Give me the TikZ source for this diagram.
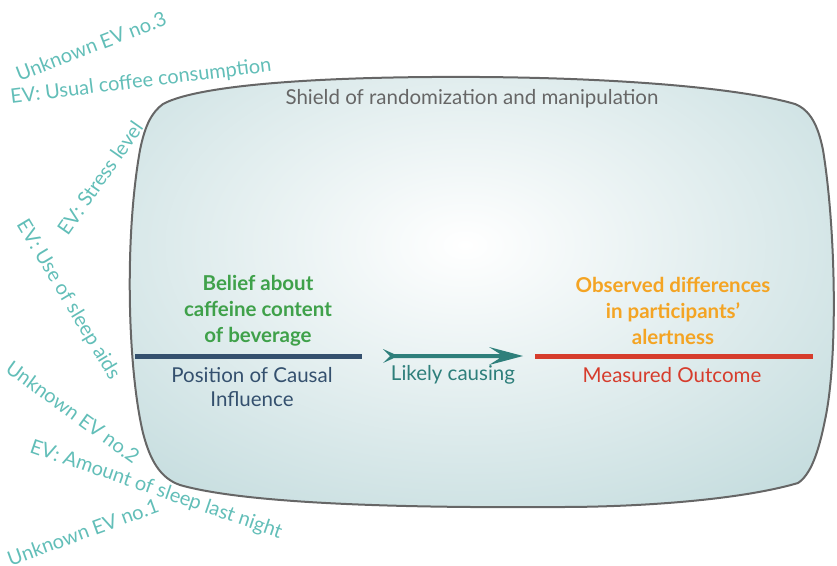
\documentclass[tikz,border=0pt]{standalone}
\usepackage{fontspec}
\setmainfont{Lato}
\definecolor{evc}{HTML}{62BEB8}
\definecolor{shieldc}{HTML}{BAD6D8}
\definecolor{edgec}{HTML}{666666}
\definecolor{greenc}{HTML}{3FA14A}
\definecolor{orangec}{HTML}{F4A423}
\definecolor{redc}{HTML}{D63C2C}
\definecolor{bluec}{HTML}{34506E}
\definecolor{arrowc}{HTML}{2E7F7B}
\tikzset{
  ev/.style={text=evc, font=\fontsize{20}{22}\selectfont, inner sep=0pt},
  head/.style={font=\fontsize{20.5}{26}\selectfont\bfseries, align=center, inner sep=0pt},
  sub/.style={font=\fontsize{20.5}{24}\selectfont, align=center, inner sep=0pt},
  bar/.style={line width=5pt}
}
\begin{document}
\begin{tikzpicture}[x=1pt,y=-1pt]
\useasboundingbox (0,0) rectangle (837,565);
% shield
\def\shieldpath{(163,104) .. controls (200,84) and (330,76) .. (480,77)
 .. controls (620,78) and (740,88) .. (795,104)
 .. controls (810,110) and (818,125) .. (823,150)
 .. controls (836,230) and (838,360) .. (825,420)
 .. controls (818,455) and (810,475) .. (798,483)
 .. controls (740,500) and (640,507) .. (560,507)
 .. controls (420,508) and (250,505) .. (180,485)
 .. controls (160,478) and (150,460) .. (143,433)
 .. controls (128,370) and (124,240) .. (140,150)
 .. controls (145,125) and (152,112) .. cycle}
\begin{scope}
  \clip \shieldpath;
  \shade[inner color=white, outer color=shieldc] (465,245) ellipse (600 and 380);
\end{scope}
\draw[edgec, line width=2pt] \shieldpath;
\node[text=edgec, font=\fontsize{20.5}{22}\selectfont, inner sep=0pt] (shield) at (472,99) {Shield of randomization and manipulation};
% left
\node[head, text=greenc] (belief) at (258,311) {Belief about\\caffeine content\\of beverage};
\coordinate (b1) at (135,356); \coordinate (b2) at (362,356);
\draw[bar, bluec] (b1) -- (b2);
\node[sub, text=bluec] (pos) at (252,387) {Position of Causal\\Influence};
% arrow
\coordinate (a1) at (383,356); \coordinate (a2) at (523,356);
\fill[arrowc] (a1) ++(0,-7) -- ++(11,5) -- (500,354) -- (489,347) -- (a2) -- (489,365) -- (500,358) -- (394,358) -- (383,363) -- (390,356) -- cycle;
\node[sub, text=arrowc] (likely) at (453,375) {Likely causing};
% right
\node[head, text=orangec] (obs) at (673,311) {Observed differences\\in participants'\\alertness};
\coordinate (r1) at (535,356); \coordinate (r2) at (813,356);
\draw[bar, redc] (r1) -- (r2);
\node[sub, text=redc] (meas) at (672,375) {Measured Outcome};
% EV labels
\node[ev, rotate=21] (u3) at (91,46) {Unknown EV no.3};
\node[ev, rotate=7] (coffee) at (141,82) {EV: Usual coffee consumption};
\node[ev, rotate=55] (stress) at (100,178) {EV: Stress level};
\node[ev, rotate=-59] (aids) at (68,300) {EV: Use of sleep aids};
\node[ev, rotate=-36] (u2) at (73,412) {Unknown EV no.2};
\node[ev, rotate=-19] (sleep) at (156,490) {EV: Amount of sleep last night};
\node[ev, rotate=20] (u1) at (83,532) {Unknown EV no.1};
\end{tikzpicture}
\end{document}
